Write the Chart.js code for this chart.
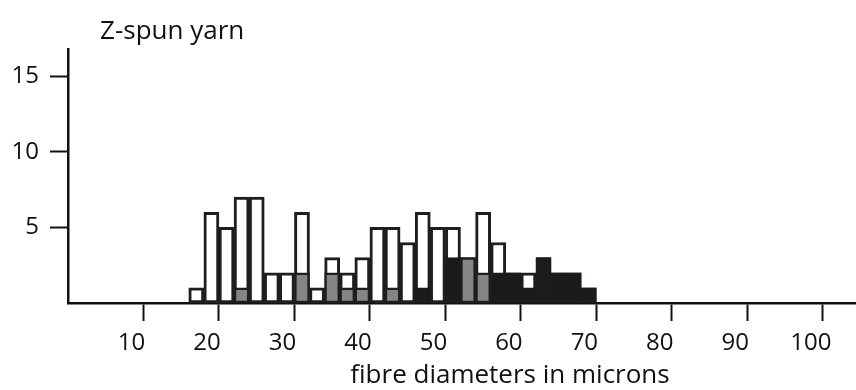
<!DOCTYPE html>
<html>
<head>
<meta charset="utf-8">
<script src="https://cdn.jsdelivr.net/npm/chart.js@4/dist/chart.umd.min.js"></script>
<style>
  html, body { margin: 0; padding: 0; background: #ffffff; }
  #wrap { width: 856px; height: 390px; position: relative; }
</style>
</head>
<body>
<div id="wrap"><canvas id="c" width="856" height="390"></canvas></div>
<script>
// Bin centres (2-micron bins from 16 to 70)
const binCenters = [17,19,21,23,25,27,29,31,33,35,37,39,41,43,45,47,49,51,53,55,57,59,61,63,65,67,69];
// Total fibre count per bin (white bar outline)
const totalCounts = [1,6,5,7,7,2,2,6,1,3,2,3,5,5,4,6,5,5,3,6,4,2,2,3,2,2,1];
// Part of each bin shown in grey
const greyCounts  = [0,0,0,1,0,0,0,2,0,2,1,1,0,1,0,0,0,0,3,2,0,0,0,0,0,0,0];
// Part of each bin shown in black
const blackCounts = [0,0,0,0,0,0,0,0,0,0,0,0,0,0,0,1,0,3,0,0,2,2,1,3,2,2,1];
const xTickValues = [10,20,30,40,50,60,70,80,90,100];
const yTickValues = [5,10,15];
const chartTitle = 'Z-spun yarn';
const xAxisTitle = 'fibre diameters in microns';

const FONT = '"Open Sans", "DejaVu Sans", sans-serif';

function toPoints(vals) {
  return binCenters.map((x, i) => ({ x: x, y: vals[i] > 0 ? vals[i] : null }));
}

const textPlugin = {
  id: 'texts',
  afterDraw(chart) {
    const ctx = chart.ctx;
    ctx.save();
    ctx.fillStyle = '#111';
    ctx.font = '26px ' + FONT;
    ctx.textBaseline = 'alphabetic';
    ctx.textAlign = 'left';
    ctx.fillText(chartTitle, 100, 39);
    ctx.textAlign = 'center';
    ctx.fillText(xAxisTitle, 510, 383);
    ctx.restore();
  }
};

new Chart(document.getElementById('c'), {
  type: 'bar',
  data: {
    datasets: [
      {
        label: 'grey',
        data: toPoints(greyCounts),
        backgroundColor: '#858585',
        borderColor: '#1e1e1e',
        borderWidth: 2.5,
        borderSkipped: false,
        grouped: false,
        barPercentage: 1,
        categoryPercentage: 1,
        order: 1
      },
      {
        label: 'black',
        data: toPoints(blackCounts),
        backgroundColor: '#1c1a1c',
        borderColor: '#1c1a1c',
        borderWidth: 2.5,
        borderSkipped: false,
        grouped: false,
        barPercentage: 1,
        categoryPercentage: 1,
        order: 1
      },
      {
        label: 'total',
        data: toPoints(totalCounts),
        backgroundColor: '#ffffff',
        borderColor: '#1e1e1e',
        borderWidth: 3,
        borderSkipped: false,
        grouped: false,
        barPercentage: 1,
        categoryPercentage: 1,
        order: 2
      }
    ]
  },
  options: {
    responsive: false,
    animation: false,
    events: [],
    layout: { padding: { top: 49, left: 0, right: 0, bottom: 0 } },
    plugins: { legend: { display: false }, tooltip: { enabled: false }, title: { display: false } },
    scales: {
      x: {
        type: 'linear',
        min: 0,
        max: 104.4,
        offset: false,
        afterFit(s) { s.height = 87; },
        afterBuildTicks(s) { s.ticks = xTickValues.map(v => ({ value: v })); },
        ticks: { color: '#111', font: { family: FONT, size: 24 }, padding: 8, labelOffset: -12, maxRotation: 0, autoSkip: false },
        grid: { drawOnChartArea: false, drawTicks: true, tickLength: 18, tickWidth: 2, tickColor: '#111', offset: false },
        border: { display: true, color: '#111', width: 2.5 }
      },
      y: {
        min: 0,
        max: 16.8,
        afterFit(s) { s.width = 68; },
        afterBuildTicks(s) { s.ticks = yTickValues.map(v => ({ value: v })); },
        ticks: { color: '#111', font: { family: FONT, size: 24 }, padding: 11 },
        grid: { drawOnChartArea: false, drawTicks: true, tickLength: 18, tickWidth: 2, tickColor: '#111' },
        border: { display: true, color: '#111', width: 2.5 }
      }
    }
  },
  plugins: [textPlugin]
});
</script>
</body>
</html>
